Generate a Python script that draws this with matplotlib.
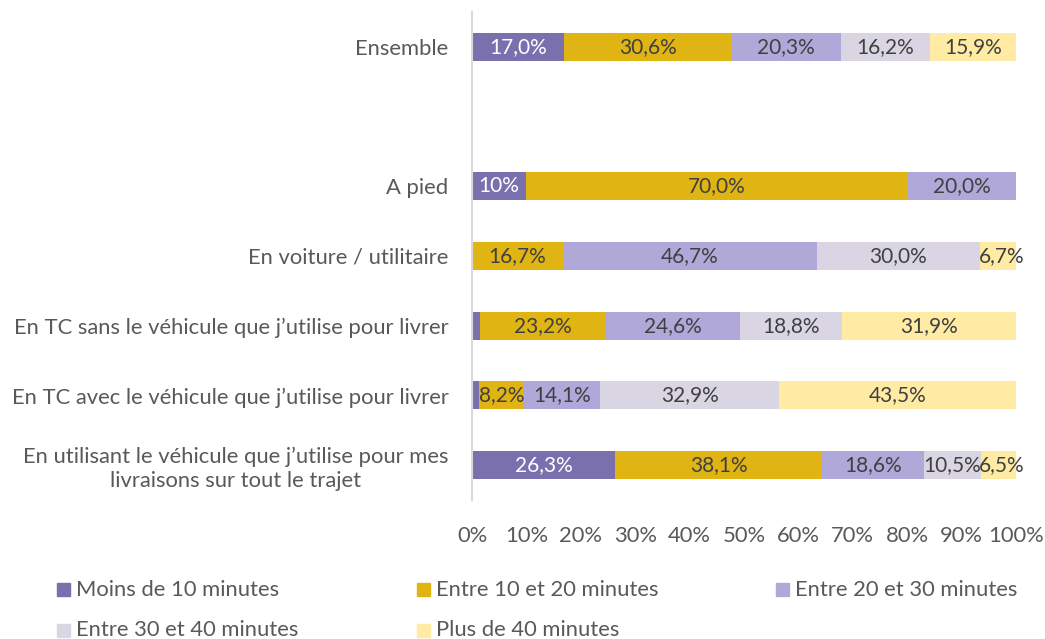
import matplotlib.pyplot as plt
from matplotlib.patches import Rectangle

plt.rcParams['font.family'] = ['Lato', 'DejaVu Sans']

# categories (top to bottom), blank row after "Ensemble"
categories = ['Ensemble', '', 'A pied', 'En voiture / utilitaire',
              'En TC sans le véhicule que j’utilise pour livrer',
              'En TC avec le véhicule que j’utilise pour livrer',
              'En utilisant le véhicule que j’utilise pour mes\nlivraisons sur tout le trajet']

series = ['Moins de 10 minutes', 'Entre 10 et 20 minutes', 'Entre 20 et 30 minutes',
          'Entre 30 et 40 minutes', 'Plus de 40 minutes']
colors = ['#7B70AE', '#E0B412', '#B0A8D8', '#D9D5E3', '#FFEBA3']
text_colors = ['white', '#404040', '#404040', '#404040', '#404040']

moins10 = [17.0, 0, 10.0, 0, 1.5, 1.3, 26.3]
e10_20 = [30.6, 0, 70.0, 16.7, 23.2, 8.2, 38.1]
e20_30 = [20.3, 0, 20.0, 46.7, 24.6, 14.1, 18.6]
e30_40 = [16.2, 0, 0, 30.0, 18.8, 32.9, 10.5]
plus40 = [15.9, 0, 0, 6.7, 31.9, 43.5, 6.5]

lab_moins10 = ['17,0%', '', '10%', '', '', '', '26,3%']
lab_e10_20 = ['30,6%', '', '70,0%', '16,7%', '23,2%', '8,2%', '38,1%']
lab_e20_30 = ['20,3%', '', '20,0%', '46,7%', '24,6%', '14,1%', '18,6%']
lab_e30_40 = ['16,2%', '', '', '30,0%', '18,8%', '32,9%', '10,5%']
lab_plus40 = ['15,9%', '', '', '6,7%', '31,9%', '43,5%', '6,5%']

values = [moins10, e10_20, e20_30, e30_40, plus40]
labels = [lab_moins10, lab_e10_20, lab_e20_30, lab_e30_40, lab_plus40]

fs = 15.8
grey = '#595959'

fig = plt.figure(figsize=(10.45, 6.39), dpi=100)
ax = fig.add_axes([472 / 1045, 1 - 500 / 639, 544 / 1045, 488 / 639])

y = list(range(len(categories)))
left = [0] * len(categories)
for k, (vals, labs, col, tcol) in enumerate(zip(values, labels, colors, text_colors)):
    bars = ax.barh(y, vals, left=left, height=0.4, color=col, edgecolor='none')
    for b, lab in zip(bars, labs):
        if lab:
            # narrow last segment: push its label a little to the right
            dx = 3 if (k == len(values) - 1 and b.get_width() < 8) else 0
            ax.annotate(lab, (b.get_x() + b.get_width() / 2, b.get_y() + b.get_height() / 2),
                        xytext=(dx, 0), textcoords='offset pixels',
                        ha='center', va='center', color=tcol, fontsize=15)
    left = [l + v for l, v in zip(left, vals)]

ax.set_xlim(0, 100)
ax.set_ylim(len(categories) - 0.5, -0.5)
ax.set_yticks(y)
ax.set_yticklabels(categories, fontsize=fs, color=grey, multialignment='center')
ax.set_xticks(range(0, 101, 10))
ax.set_xticklabels([f'{t}%' for t in range(0, 101, 10)], fontsize=fs, color=grey)
ax.tick_params(length=0)
ax.tick_params(axis='x', pad=19)
ax.tick_params(axis='y', pad=17)
for s in ['top', 'right', 'bottom']:
    ax.spines[s].set_visible(False)
ax.spines['left'].set_color('#D9D9D9')
ax.spines['left'].set_linewidth(1.5)

# legend laid out like the original (3 columns, 2 rows)
leg_x = [57, 417, 776, 57, 417]
leg_y = [589.5, 589.5, 589.5, 630.5, 630.5]
for name, col, lx, ly in zip(series, colors, leg_x, leg_y):
    fig.patches.append(Rectangle((lx / 1045, 1 - (ly + 6.5) / 639), 13 / 1045, 13 / 639,
                                 transform=fig.transFigure, color=col))
    fig.text((lx + 19) / 1045, 1 - ly / 639, name, ha='left', va='center',
             fontsize=fs, color=grey)

fig.savefig('out.png', dpi=100)
